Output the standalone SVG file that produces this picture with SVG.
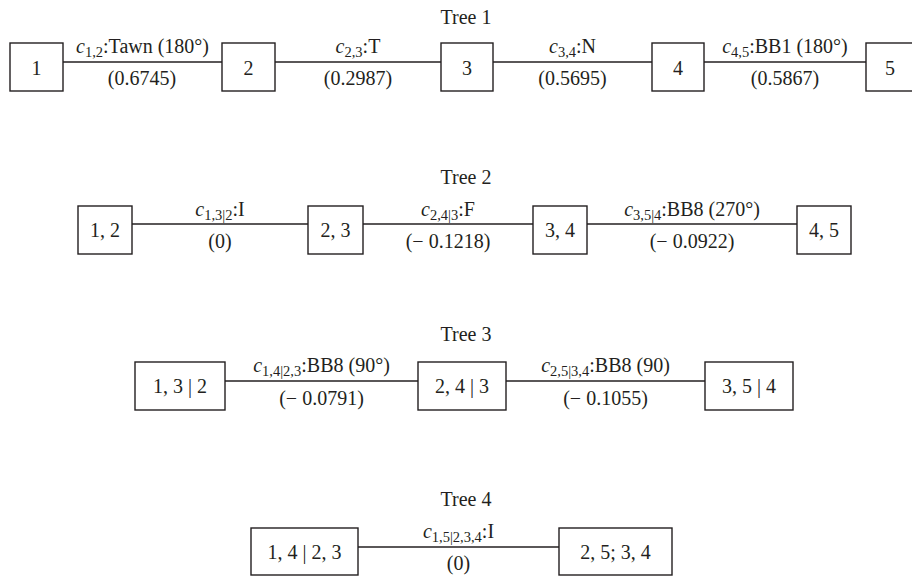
<svg xmlns="http://www.w3.org/2000/svg" width="912" height="576" viewBox="0 0 912 576">
<style>
text{font-family:"Liberation Serif","Times New Roman",serif;font-size:20px;fill:#231f20;text-anchor:middle}
.box{fill:#fff;stroke:#231f20;stroke-width:1.4}
.edge{stroke:#231f20;stroke-width:1.4;fill:none}
.i{font-style:italic}
.s{font-size:14.5px}
</style>
<rect width="912" height="576" fill="#fff"/>
<g id="titles">
<text x="466" y="24">Tree 1</text>
<text x="466" y="184">Tree 2</text>
<text x="466" y="341">Tree 3</text>
<text x="466" y="506">Tree 4</text>
</g>
<g id="connectors">
<line class="edge" x1="63" y1="62" x2="222" y2="62"/>
<line class="edge" x1="275" y1="62" x2="441" y2="62"/>
<line class="edge" x1="493" y1="62" x2="652" y2="62"/>
<line class="edge" x1="704" y1="62" x2="866" y2="62"/>
<line class="edge" x1="132" y1="224" x2="308" y2="224"/>
<line class="edge" x1="363" y1="224" x2="533" y2="224"/>
<line class="edge" x1="587" y1="224" x2="797" y2="224"/>
<line class="edge" x1="225" y1="381" x2="418" y2="381"/>
<line class="edge" x1="506" y1="381" x2="705" y2="381"/>
<line class="edge" x1="358" y1="547" x2="559" y2="547"/>
</g>
<g id="edge-labels">
<text x="142.5" y="53"><tspan class="i">c</tspan><tspan class="s" dy="4">1,2</tspan><tspan dy="-4">:Tawn (180°)</tspan></text>
<text x="142" y="85">(0.6745)</text>
<text x="358" y="53"><tspan class="i">c</tspan><tspan class="s" dy="4">2,3</tspan><tspan dy="-4">:T</tspan></text>
<text x="358" y="85">(0.2987)</text>
<text x="572.5" y="53"><tspan class="i">c</tspan><tspan class="s" dy="4">3,4</tspan><tspan dy="-4">:N</tspan></text>
<text x="572.5" y="85">(0.5695)</text>
<text x="785" y="53"><tspan class="i">c</tspan><tspan class="s" dy="4">4,5</tspan><tspan dy="-4">:BB1 (180°)</tspan></text>
<text x="785" y="85">(0.5867)</text>
<text x="220" y="216"><tspan class="i">c</tspan><tspan class="s" dy="4">1,3|2</tspan><tspan dy="-4">:I</tspan></text>
<text x="220" y="248">(0)</text>
<text x="448" y="216"><tspan class="i">c</tspan><tspan class="s" dy="4">2,4|3</tspan><tspan dy="-4">:F</tspan></text>
<text x="448" y="248">(− 0.1218)</text>
<text x="692" y="216"><tspan class="i">c</tspan><tspan class="s" dy="4">3,5|4</tspan><tspan dy="-4">:BB8 (270°)</tspan></text>
<text x="692" y="248">(− 0.0922)</text>
<text x="321.5" y="372"><tspan class="i">c</tspan><tspan class="s" dy="4">1,4|2,3</tspan><tspan dy="-4">:BB8 (90°)</tspan></text>
<text x="321.5" y="405">(− 0.0791)</text>
<text x="605.5" y="372"><tspan class="i">c</tspan><tspan class="s" dy="4">2,5|3,4</tspan><tspan dy="-4">:BB8 (90)</tspan></text>
<text x="605.5" y="405">(− 0.1055)</text>
<text x="458.5" y="538"><tspan class="i">c</tspan><tspan class="s" dy="4">1,5|2,3,4</tspan><tspan dy="-4">:I</tspan></text>
<text x="458.5" y="570">(0)</text>
</g>
<g id="n1"><rect class="box" x="10" y="43" width="53" height="48"/><text x="36.5" y="75">1</text></g>
<g id="n2"><rect class="box" x="222" y="43" width="53" height="48"/><text x="248.5" y="75">2</text></g>
<g id="n3"><rect class="box" x="441" y="43" width="52" height="48"/><text x="467" y="75">3</text></g>
<g id="n4"><rect class="box" x="652" y="43" width="52" height="48"/><text x="678" y="75">4</text></g>
<g id="n5"><rect class="box" x="866" y="43" width="53" height="48"/><text x="890" y="75">5</text></g>
<g id="n12"><rect class="box" x="78" y="206" width="54" height="48"/><text x="105" y="237">1, 2</text></g>
<g id="n23"><rect class="box" x="308" y="206" width="55" height="48"/><text x="335.5" y="237">2, 3</text></g>
<g id="n34"><rect class="box" x="533" y="206" width="54" height="48"/><text x="560" y="237">3, 4</text></g>
<g id="n45"><rect class="box" x="797" y="206" width="54" height="48"/><text x="824" y="237">4, 5</text></g>
<g id="n13_2"><rect class="box" x="135" y="362" width="90" height="48"/><text x="180" y="393">1, 3 | 2</text></g>
<g id="n24_3"><rect class="box" x="418" y="362" width="88" height="48"/><text x="462" y="393">2, 4 | 3</text></g>
<g id="n35_4"><rect class="box" x="705" y="362" width="88" height="48"/><text x="749" y="393">3, 5 | 4</text></g>
<g id="n14_23"><rect class="box" x="251" y="528" width="107" height="47"/><text x="304.5" y="559">1, 4 | 2, 3</text></g>
<g id="n25_34"><rect class="box" x="559" y="528" width="113" height="47"/><text x="615.5" y="559">2, 5; 3, 4</text></g>
</svg>
